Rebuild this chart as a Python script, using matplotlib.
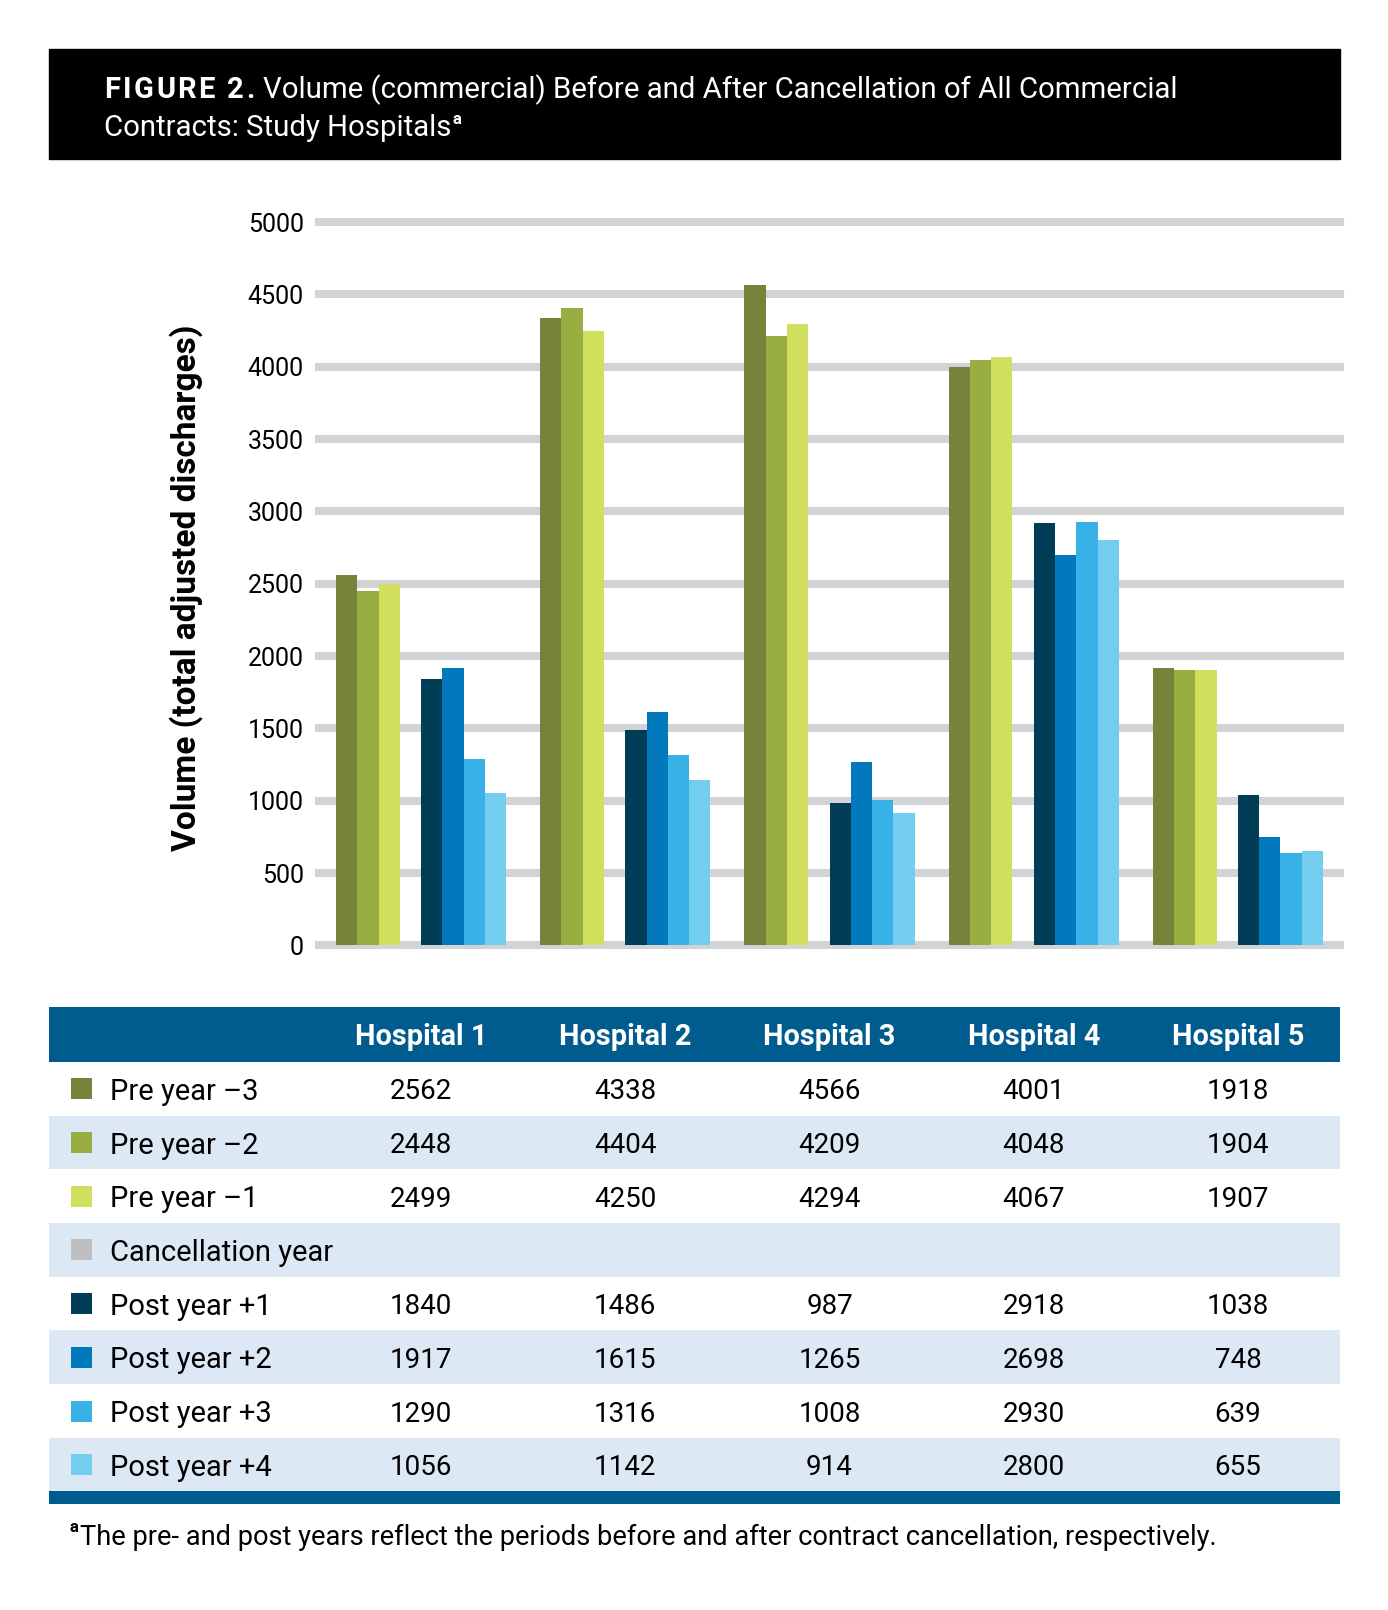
import matplotlib
matplotlib.use("Agg")
import matplotlib.pyplot as plt
from matplotlib.patches import Rectangle

plt.rcParams['font.family'] = ['Roboto', 'DejaVu Sans']

# donnees du tableau
hospitals = ["Hospital 1", "Hospital 2", "Hospital 3", "Hospital 4", "Hospital 5"]
series_names = ["Pre year \u20133", "Pre year \u20132", "Pre year \u20131", "Cancellation year",
                "Post year +1", "Post year +2", "Post year +3", "Post year +4"]
pre_3 = [2562, 4338, 4566, 4001, 1918]
pre_2 = [2448, 4404, 4209, 4048, 1904]
pre_1 = [2499, 4250, 4294, 4067, 1907]
cancellation = [None, None, None, None, None]
post_1 = [1840, 1486, 987, 2918, 1038]
post_2 = [1917, 1615, 1265, 2698, 748]
post_3 = [1290, 1316, 1008, 2930, 639]
post_4 = [1056, 1142, 914, 2800, 655]
yticks = [0, 500, 1000, 1500, 2000, 2500, 3000, 3500, 4000, 4500, 5000]

series = [pre_3, pre_2, pre_1, cancellation, post_1, post_2, post_3, post_4]
colors = ['#77833a', '#98ad42', '#d0e05e', '#bcbec0',
          '#023d57', '#0279bc', '#38b2e6', '#72cdef']

W, H = 1388, 1610
fig = plt.figure(figsize=(W / 100, H / 100), dpi=100)

def fx(x):
    return x / W

def fy(y):
    return 1 - y / H

# bandeau noir du titre
fig.patches.append(Rectangle((fx(49), fy(159)), (1340 - 49) / W, (159 - 49) / H,
                             transform=fig.transFigure, color='black', zorder=0))
renderer = fig.canvas.get_renderer()

# "FIGURE 2." avec un espacement des lettres
xpos = 104
for ch in "FIGURE 2.":
    t = fig.text(fx(xpos), fy(98), ch, color='white', fontsize=21, weight='bold')
    bb = t.get_window_extent(renderer)
    xpos = bb.x1 + 2.5 if ch != " " else xpos + 9
fig.text(fx(xpos + 6), fy(98),
         "Volume (commercial) Before and After Cancellation of All Commercial",
         color='white', fontsize=21.2)
t2 = fig.text(fx(104), fy(136), "Contracts: Study Hospitals", color='white', fontsize=21.2)
bb = t2.get_window_extent(renderer)
fig.text(bb.x1 / W + 1 / W, fy(124), "a", color='white', fontsize=12, weight='bold')

# graphique en barres
ax = fig.add_axes([fx(319), fy(945.5), (1340 - 319) / W, (945.5 - 222) / H])
ax.set_xlim(-0.5, 4.5)
ax.set_ylim(0, 5000)
for s in ax.spines.values():
    s.set_visible(False)
ax.set_xticks([])
ax.set_yticks(yticks)
ax.set_yticklabels([str(v) for v in yticks])
ax.tick_params(axis='y', length=0, pad=11, labelsize=18)
for v in yticks:
    ax.axhline(v, color='#d1d3d4', lw=5.8, zorder=0, clip_on=False)

bw = 0.1043
x = list(range(len(hospitals)))
for j, vals in enumerate(series):
    if vals[0] is None:
        continue
    ax.bar([i + (j - 3.5) * bw for i in x], vals, bw, color=colors[j], linewidth=0, zorder=2)

fig.text(fx(186), fy(588), "Volume (total adjusted discharges)", rotation=90,
         ha='center', va='center', fontsize=24, weight='bold')

# tableau
catw = 1021 / 5
xl = -0.5 - (319 - 49) / catw
xr = 4.5
tax = fig.add_axes([fx(49), fy(1504), (1340 - 49) / W, (1504 - 1007) / H])
tax.set_xlim(xl, xr)
tax.set_ylim(1504, 1007)
tax.axis('off')

def dx(px):
    return xl + (px - 49) / catw

tax.add_patch(Rectangle((xl, 1007), xr - xl, 55, color='#005b8e', lw=0))
for k, h in enumerate(hospitals):
    tax.text(k, 1037, h, ha='center', va='center', color='white', fontsize=20.8, weight='bold')

rh = 53.7
for i, name in enumerate(series_names):
    top = 1062 + rh * i
    if i % 2 == 1:
        tax.add_patch(Rectangle((xl, top), xr - xl, rh, color='#dde8f5', lw=0))
    yc = top + rh / 2
    tax.add_patch(Rectangle((dx(71), yc - 10.5), 21 / catw, 21, color=colors[i], lw=0))
    tax.text(dx(110), yc + 3, name, ha='left', va='center', fontsize=21)
    for k in range(len(hospitals)):
        v = series[i][k]
        if v is not None:
            tax.text(k, yc + 3, str(v), ha='center', va='center', fontsize=20)
tax.add_patch(Rectangle((xl, 1491), xr - xl, 13, color='#005b8e', lw=0))

# note de bas de page
fig.text(fx(70), fy(1532), "a", fontsize=12, weight='bold')
fig.text(fx(80), fy(1545),
         "The pre- and post years reflect the periods before and after contract cancellation, respectively.",
         fontsize=19.6)

fig.savefig("out.png", dpi=100)
